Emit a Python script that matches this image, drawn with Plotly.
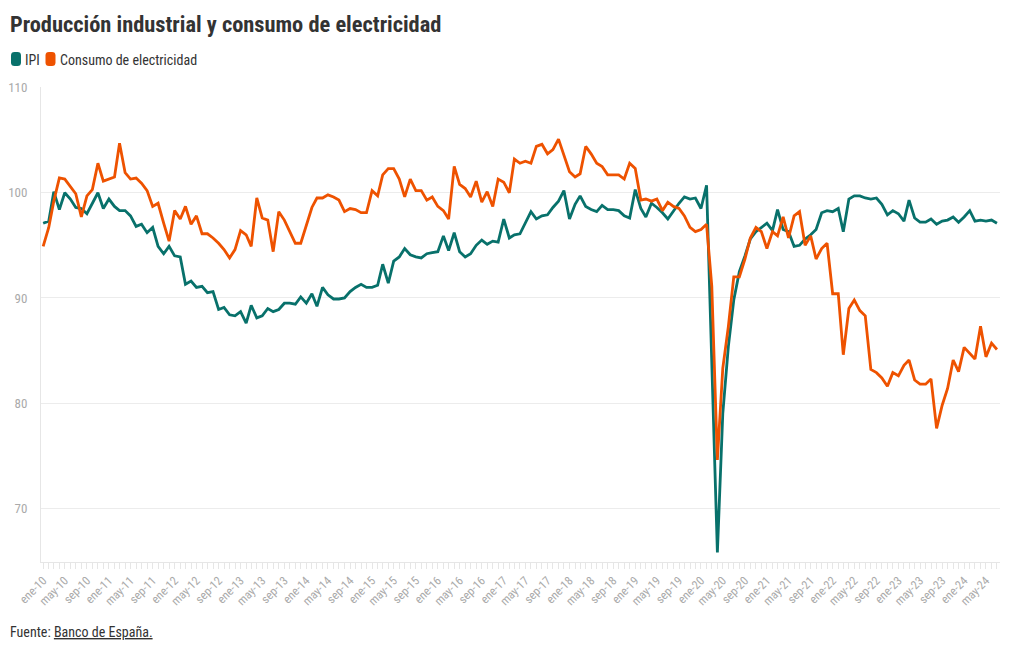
import pandas as pd
import plotly.graph_objects as go

ipi = [
    97.1, 97.3, 100.1, 98.4, 100.0, 99.4, 98.6, 98.5, 98.0, 99.0, 100.0, 98.5,
    99.4, 98.7, 98.3, 98.3, 97.8, 96.8, 97.0, 96.2, 96.7, 94.9, 94.2, 94.9,
    94.0, 93.9, 91.3, 91.6, 91.0, 91.1, 90.5, 90.6, 88.9, 89.1, 88.4, 88.3,
    88.7, 87.6, 89.3, 88.1, 88.3, 89.0, 88.7, 88.9, 89.5, 89.5, 89.4, 90.1,
    89.5, 90.4, 89.2, 91.0, 90.3, 89.9, 89.9, 90.0, 90.6, 91.0, 91.3, 91.0,
    91.0, 91.2, 93.2, 91.4, 93.5, 93.9, 94.7, 94.1, 93.9, 93.8, 94.2, 94.3,
    94.4, 95.9, 94.5, 96.2, 94.4, 93.9, 94.2, 95.0, 95.5, 95.1, 95.4, 95.3,
    97.5, 95.7, 96.0, 96.1, 97.2, 98.2, 97.5, 97.8, 97.9, 98.6, 99.2, 100.2,
    97.5, 98.9, 99.7, 98.7, 98.4, 98.2, 98.8, 98.4, 98.4, 98.3, 97.8, 97.6,
    100.3, 98.5, 97.7, 99.0, 98.6, 98.1, 97.5, 98.3, 99.0, 99.6, 99.4, 99.5,
    98.5, 100.7, 83.5, 65.8, 79.0, 85.4, 89.8, 92.5, 94.0, 95.6, 96.3, 96.7,
    97.1, 96.4, 98.4, 96.5, 96.3, 94.9, 95.0, 95.6, 96.0, 96.5, 98.1, 98.3,
    98.2, 98.5, 96.3, 99.4, 99.7, 99.7, 99.5, 99.4, 99.5, 98.9, 97.9, 98.3,
    98.0, 97.3, 99.3, 97.6, 97.2, 97.2, 97.5, 97.0, 97.3, 97.4, 97.7, 97.2,
    97.7, 98.3, 97.3, 97.4, 97.3, 97.4, 97.1,
]

electricidad = [
    94.9, 96.7, 99.2, 101.4, 101.3, 100.6, 99.9, 97.7, 99.7, 100.3, 102.8, 101.1,
    101.3, 101.5, 104.7, 101.9, 101.3, 101.4, 100.9, 100.2, 98.7, 99.0, 97.1, 95.4,
    98.3, 97.5, 98.7, 97.0, 97.8, 96.1, 96.1, 95.7, 95.2, 94.6, 93.8, 94.6,
    96.4, 96.0, 94.9, 99.5, 97.6, 97.4, 94.4, 98.2, 97.4, 96.3, 95.2, 95.2,
    97.0, 98.6, 99.5, 99.5, 99.8, 99.6, 99.3, 98.2, 98.5, 98.4, 98.1, 98.1,
    100.2, 99.7, 101.7, 102.3, 102.3, 101.3, 99.6, 101.3, 100.2, 100.2, 99.3, 99.6,
    98.7, 98.3, 97.5, 102.5, 100.8, 100.4, 99.6, 101.1, 99.1, 100.1, 98.7, 101.3,
    101.0, 100.0, 103.2, 102.8, 103.0, 102.8, 104.4, 104.6, 103.7, 104.1, 105.1, 103.6,
    102.0, 101.5, 101.8, 104.4, 103.7, 102.8, 102.5, 101.7, 101.7, 101.7, 101.3, 102.8,
    102.3, 99.3, 99.4, 99.2, 99.4, 98.3, 99.1, 98.7, 98.5, 97.8, 96.7, 96.3,
    96.5, 97.0, 91.1, 74.6, 83.3, 87.3, 92.0, 92.0, 93.7, 95.7, 96.7, 96.3,
    94.7, 96.3, 95.9, 97.7, 95.7, 97.8, 98.2, 95.0, 95.9, 93.7, 94.7, 95.2,
    90.4, 90.4, 84.6, 89.0, 89.8, 88.8, 88.3, 83.2, 82.9, 82.4, 81.6, 82.9,
    82.6, 83.6, 84.1, 82.2, 81.8, 81.8, 82.3, 77.6, 79.8, 81.4, 84.1, 83.0,
    85.3, 84.7, 84.2, 87.3, 84.4, 85.7, 85.1,
]

series_nombres = ["IPI", "Consumo de electricidad"]

fechas = pd.date_range(start="2010-01-01", periods=len(ipi), freq="MS")

meses = {1: "ene", 5: "may", 9: "sep"}
tick_fechas = [f for f in fechas if f.month in meses]
tick_textos = [f"{meses[f.month]}-{f.strftime('%y')}" for f in tick_fechas]

y_ticks = [70, 80, 90, 100, 110]

COL_IPI = "#08716b"
COL_ELEC = "#ee5200"
FONT = "Roboto Condensed, Liberation Sans Narrow, Roboto, sans-serif"

# page body has an 8px margin; size the figure so it fits the window
W, H = 1012, 642
ML, MR, MT, MB = 33, 20, 79, 88
PW, PH = W - ML - MR, H - MT - MB


def px_x(X):
    return (X - ML) / PW


def px_y(Y):
    return (H - MB - Y) / PH


def rounded_rect(x0, y0, x1, y1, r):
    def P(x, y):
        return f"{px_x(x):.5f},{px_y(y):.5f}"
    return (f"M {P(x0 + r, y0)} L {P(x1 - r, y0)} Q {P(x1, y0)} {P(x1, y0 + r)} "
            f"L {P(x1, y1 - r)} Q {P(x1, y1)} {P(x1 - r, y1)} "
            f"L {P(x0 + r, y1)} Q {P(x0, y1)} {P(x0, y1 - r)} "
            f"L {P(x0, y0 + r)} Q {P(x0, y0)} {P(x0 + r, y0)} Z")


fig = go.Figure()
fig.add_trace(go.Scatter(x=fechas, y=ipi, mode="lines", name=series_nombres[0],
                         line=dict(color=COL_IPI, width=2.8), showlegend=False))
fig.add_trace(go.Scatter(x=fechas, y=electricidad, mode="lines",
                         name=series_nombres[1],
                         line=dict(color=COL_ELEC, width=2.8), showlegend=False))

# custom legend: rounded swatches + labels
legend_items = [(3, 13, 15, series_nombres[0], COL_IPI),
                (37.5, 47.5, 49.5, series_nombres[1], COL_ELEC)]
shapes = []
annotations = []
for sx0, sx1, tx, name, col in legend_items:
    shapes.append(dict(type="path", xref="paper", yref="paper",
                       path=rounded_rect(sx0, 44, sx1, 58, 3.5),
                       fillcolor=col, line=dict(width=0)))
    annotations.append(dict(text=name, xref="paper", yref="paper",
                            x=px_x(tx), y=px_y(51.5), xanchor="left",
                            yanchor="middle", showarrow=False,
                            font=dict(size=14, color="#333333", family=FONT)))

annotations.append(dict(
    text="Fuente: <span style='text-decoration:underline'>Banco de España.</span>",
    xref="paper", yref="paper", x=px_x(0), y=px_y(624),
    xanchor="left", yanchor="middle", showarrow=False,
    font=dict(size=14, color="#333333", family=FONT),
))

fig.update_layout(
    width=W, height=H,
    margin=dict(l=ML, r=MR, t=MT, b=MB, autoexpand=False),
    paper_bgcolor="white", plot_bgcolor="white",
    font=dict(family=FONT, color="#333333", size=14),
    showlegend=False,
    title=dict(text="<b>Producción industrial y consumo de electricidad</b>",
               x=2 / W, xref="container", xanchor="left",
               y=1 - 16 / H, yref="container", yanchor="middle",
               font=dict(size=22.4, color="#333333", family=FONT)),
    xaxis=dict(
        type="date", automargin=False,
        range=["2009-12-20", "2024-07-18"],
        tickmode="array", tickvals=tick_fechas, ticktext=tick_textos,
        tickangle=-45, tickfont=dict(size=12, color="#aaaaaa", family=FONT),
        showgrid=False, showline=True, linecolor="#e6e6e6", linewidth=1,
        ticks="outside", ticklen=6, tickcolor="#e6e6e6",
        minor=dict(dtick="M1", tick0="2010-01-01", ticks="outside", ticklen=6,
                   tickcolor="#e6e6e6", showgrid=False),
        zeroline=False,
    ),
    yaxis=dict(
        automargin=False,
        range=[64.9, 110.05],
        tickmode="array", tickvals=y_ticks,
        tickfont=dict(size=13, color="#aaaaaa", family=FONT),
        showgrid=True, gridcolor="#ececec", gridwidth=1,
        showline=True, linecolor="#e6e6e6", linewidth=1,
        ticks="", zeroline=False, ticklabelstandoff=10,
    ),
    shapes=shapes,
    annotations=annotations,
)

fig.write_html("out.html")
